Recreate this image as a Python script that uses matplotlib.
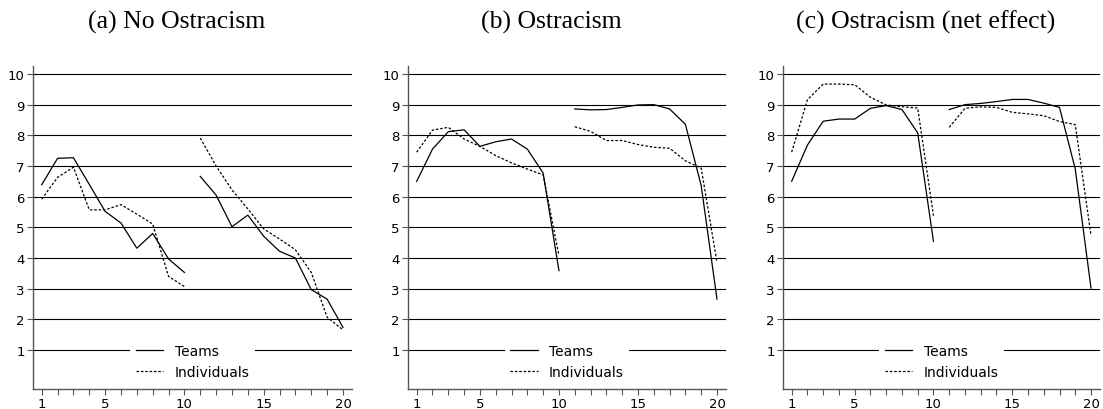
import matplotlib
matplotlib.use("Agg")
import matplotlib.pyplot as plt
import numpy as np

rounds = np.arange(1, 21)

titles = ["(a) No Ostracism", "(b) Ostracism", "(c) Ostracism (net effect)"]

teams_a = [6.39, 7.25, 7.27, 6.40, 5.52, 5.14, 4.32, 4.80, 3.97, 3.53,
           6.66, 6.05, 5.02, 5.40, 4.71, 4.22, 4.00, 2.97, 2.66, 1.74]
indiv_a = [5.92, 6.63, 6.96, 5.57, 5.57, 5.74, 5.43, 5.11, 3.40, 3.07,
           7.91, 7.00, 6.22, 5.60, 4.95, 4.62, 4.27, 3.53, 2.07, 1.66]

teams_b = [6.50, 7.55, 8.12, 8.18, 7.64, 7.79, 7.88, 7.55, 6.77, 3.59,
           8.86, 8.83, 8.84, 8.91, 8.99, 9.00, 8.86, 8.36, 6.36, 2.66]
indiv_b = [7.45, 8.17, 8.26, 7.88, 7.64, 7.34, 7.10, 6.90, 6.71, 4.08,
           8.28, 8.13, 7.83, 7.83, 7.70, 7.61, 7.58, 7.17, 6.93, 3.86]

teams_c = [6.50, 7.68, 8.46, 8.53, 8.53, 8.88, 8.97, 8.84, 8.08, 4.54,
           8.84, 9.00, 9.04, 9.10, 9.17, 9.17, 9.05, 8.91, 6.90, 3.02]
indiv_c = [7.45, 9.16, 9.67, 9.67, 9.65, 9.24, 8.99, 8.93, 8.89, 5.38,
           8.26, 8.88, 8.93, 8.91, 8.75, 8.70, 8.64, 8.45, 8.35, 4.73]

teams = [teams_a, teams_b, teams_c]
indivs = [indiv_a, indiv_b, indiv_c]

fig = plt.figure(figsize=(11.03, 4.10), dpi=100)
lefts = [33, 408, 783]
widths = [319, 318, 317]

for i in range(3):
    ax = fig.add_axes([lefts[i] / 1103, 20 / 410, widths[i] / 1103, 323 / 410])
    for y in range(1, 11):
        ax.axhline(y, color="black", lw=0.8, zorder=1)
    t = np.array(teams[i])
    d = np.array(indivs[i])
    # two blocks of 10 rounds, drawn separately so there's a gap
    for k, (a, b) in enumerate([(0, 10), (10, 20)]):
        ax.plot(rounds[a:b], t[a:b], color="black", lw=0.9, zorder=3,
                label="Teams" if k == 0 else None)
        ax.plot(rounds[a:b], d[a:b], color="black", lw=0.9, dashes=(2, 1.5),
                zorder=3, label="Individuals" if k == 0 else None)
    ax.set_xlim(0.45, 20.57)
    ax.set_ylim(-0.27, 10.26)
    ax.set_yticks(range(1, 11))
    ax.set_xticks([1, 5, 10, 15, 20])
    ax.set_xticks(rounds, minor=True)
    ax.tick_params(axis="both", which="both", length=4, width=0.8,
                   color="#555555", labelsize=9.5, pad=2)
    for s in ["top", "right"]:
        ax.spines[s].set_visible(False)
    for s in ["left", "bottom"]:
        ax.spines[s].set_color("#555555")
        ax.spines[s].set_linewidth(1.0)
    leg = ax.legend(loc="lower center", bbox_to_anchor=(0.5, 0.014),
                    borderaxespad=0, frameon=True, fontsize=10,
                    handlelength=2.0, labelspacing=0.5)
    leg.get_frame().set_edgecolor("none")
    leg.get_frame().set_facecolor("white")
    leg.get_frame().set_alpha(1)
    leg.set_zorder(5)
    ax.text(0.45, 1.12, titles[i], transform=ax.transAxes, ha="center",
            va="baseline", family="Liberation Serif", fontsize=18.5)

fig.savefig("out.png", dpi=100)
